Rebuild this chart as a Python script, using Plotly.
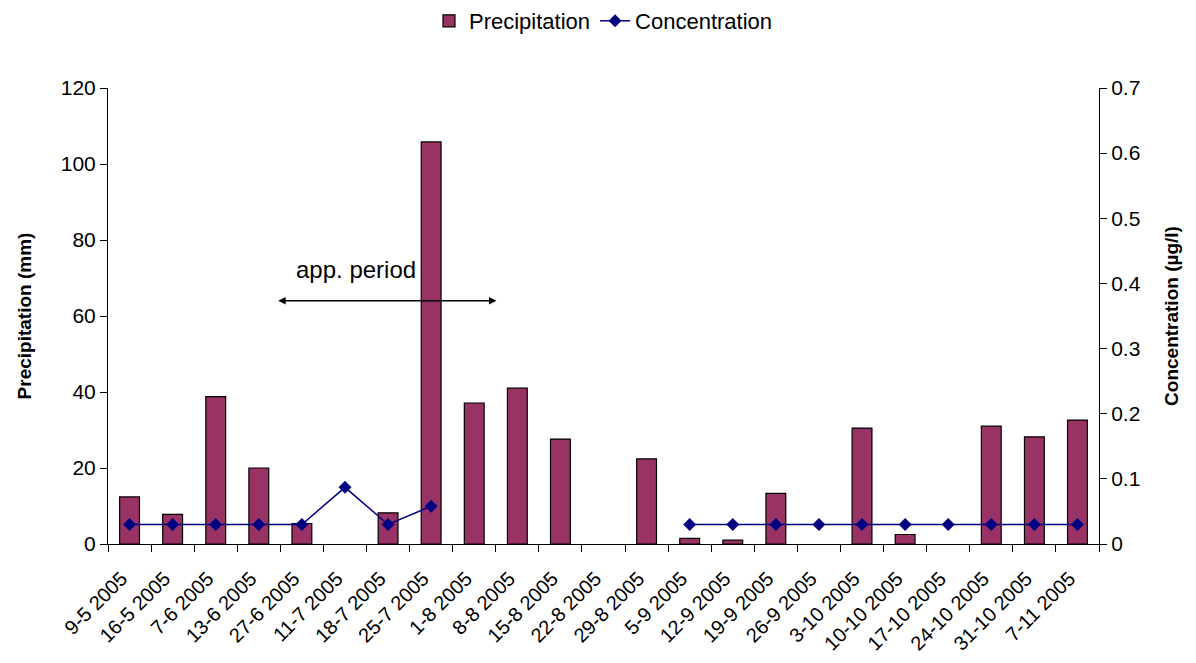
import plotly.graph_objects as go

categories = ["9-5 2005", "16-5 2005", "7-6 2005", "13-6 2005", "27-6 2005", "11-7 2005",
              "18-7 2005", "25-7 2005", "1-8 2005", "8-8 2005", "15-8 2005", "22-8 2005",
              "29-8 2005", "5-9 2005", "12-9 2005", "19-9 2005", "26-9 2005", "3-10 2005",
              "10-10 2005", "17-10 2005", "24-10 2005", "31-10 2005", "7-11 2005"]
precipitation = [12.4, 7.8, 38.8, 20.0, 5.4, None, 8.2, 105.8, 37.1, 41.0, 27.6, None,
                 22.4, 1.5, 1.0, 13.3, None, 30.5, 2.5, None, 31.0, 28.2, 32.6]
concentration = [0.03, 0.03, 0.03, 0.03, 0.03, 0.087, 0.03, 0.058, None, None, None, None,
                 None, 0.03, 0.03, 0.03, 0.03, 0.03, 0.03, 0.03, 0.03, 0.03, 0.03]
left_ticks = [0, 20, 40, 60, 80, 100, 120]
right_ticks = [0, 0.1, 0.2, 0.3, 0.4, 0.5, 0.6, 0.7]

FONT = "Liberation Sans, Arial, sans-serif"

fig = go.Figure()
fig.add_trace(go.Bar(
    x=categories, y=precipitation, name="Precipitation",
    marker=dict(color="#993366", line=dict(color="black", width=1.2)),
    yaxis="y",
))
fig.add_trace(go.Scatter(
    x=categories, y=concentration, name="Concentration", mode="lines+markers",
    line=dict(color="#000080", width=1.5),
    marker=dict(symbol="diamond", size=10, color="#000080"),
    connectgaps=False, yaxis="y2",
))

fig.add_annotation(x=3.45, y=64, ax=8.55, ay=64, xref="x", yref="y", axref="x", ayref="y",
                   text="", showarrow=True, arrowhead=2, arrowside="end+start",
                   arrowsize=1, arrowwidth=1.5, arrowcolor="black")
fig.add_annotation(x=5.25, y=64, xref="x", yref="y", text="app. period", showarrow=False,
                   yshift=31, font=dict(size=24, color="black", family=FONT))

fig.update_layout(
    width=1196, height=663,
    margin=dict(l=108, r=97, t=88, b=119),
    paper_bgcolor="white", plot_bgcolor="white",
    font=dict(family=FONT, size=21, color="black"),
    bargap=0.54,
    showlegend=True,
    legend=dict(orientation="h", x=0.5, xanchor="center", y=1.0, yref="container",
                yanchor="top", font=dict(size=22), traceorder="normal"),
    xaxis=dict(
        type="category", tickangle=-45, showline=True, linecolor="black", linewidth=1,
        ticks="outside", tickson="boundaries", ticklen=7, tickcolor="black",
        showgrid=False, tickfont=dict(size=20), range=[-0.5, 22.5],
        ticklabelstandoff=14, ticklabelshift=-8, automargin=False,
    ),
    yaxis=dict(
        range=[0, 120], tickvals=left_ticks, showline=True, linecolor="black", linewidth=1,
        ticks="outside", ticklen=7, tickcolor="black", showgrid=False, zeroline=False,
        title=dict(text="<b>Precipitation (mm)</b>", font=dict(size=19), standoff=24),
        tickfont=dict(size=21),
    ),
    yaxis2=dict(
        range=[0, 0.7], tickvals=right_ticks, overlaying="y", side="right",
        showline=True, linecolor="black", linewidth=1, ticks="outside", ticklen=7,
        tickcolor="black", showgrid=False, zeroline=False,
        title=dict(text="<b>Concentration (µg/l)</b>", font=dict(size=19), standoff=24),
        tickfont=dict(size=21),
    ),
)

fig.write_html("out.html")
